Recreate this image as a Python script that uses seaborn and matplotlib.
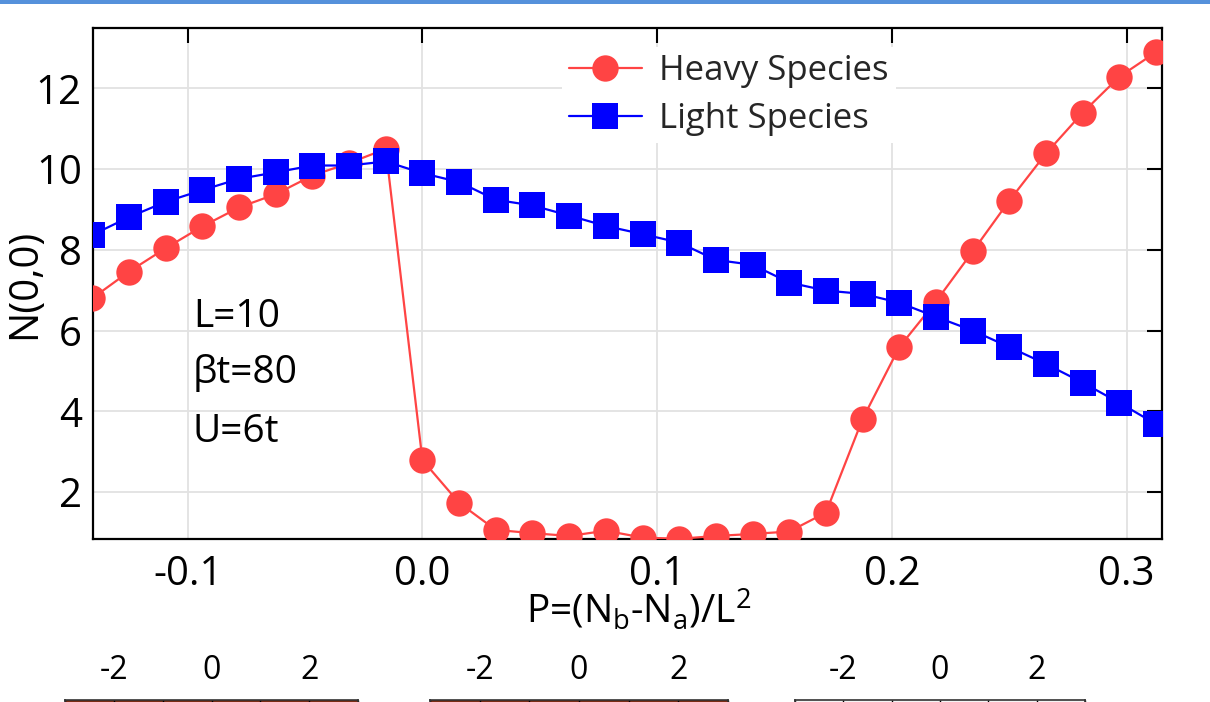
import matplotlib
matplotlib.use("Agg")
import matplotlib.pyplot as plt
import seaborn as sns
import pandas as pd
from matplotlib.patches import Rectangle

# ---------------- data ----------------
P_values = [-0.140625, -0.125, -0.109375, -0.09375, -0.078125, -0.0625, -0.046875,
            -0.03125, -0.015625, 0.0, 0.015625, 0.03125, 0.046875, 0.0625, 0.078125,
            0.09375, 0.109375, 0.125, 0.140625, 0.15625, 0.171875, 0.1875, 0.203125,
            0.21875, 0.234375, 0.25, 0.265625, 0.28125, 0.296875, 0.3125]
heavy_N = [6.80, 7.46, 8.04, 8.58, 9.05, 9.38, 9.84, 10.15, 10.50, 2.79,
           1.73, 1.06, 0.98, 0.91, 1.04, 0.87, 0.84, 0.91, 0.96, 1.02,
           1.49, 3.81, 5.59, 6.72, 7.96, 9.22, 10.39, 11.40, 12.29, 12.90]
light_N = [8.37, 8.81, 9.19, 9.48, 9.76, 9.92, 10.09, 10.09, 10.19, 9.90,
           9.68, 9.24, 9.10, 8.85, 8.59, 8.39, 8.18, 7.75, 7.63, 7.19,
           6.99, 6.91, 6.69, 6.34, 6.00, 5.59, 5.17, 4.71, 4.21, 3.68]
series_names = ["Heavy Species", "Light Species"]
x_ticks = [-0.1, 0.0, 0.1, 0.2, 0.3]
x_tick_labels = ["-0.1", "0.0", "0.1", "0.2", "0.3"]
y_ticks = [2, 4, 6, 8, 10, 12]
annotations = ["L=10", "βt=80", "U=6t"]
strip_ticks = [-2, 0, 2]
strip_tick_labels = ["-2", "0", "2"]

# ---------------- style ----------------
sns.set_theme(style="white")
plt.rcParams["font.family"] = ["Open Sans", "DejaVu Sans"]
plt.rcParams["mathtext.default"] = "regular"

RED = "#ff4444"
BLUE = "#0000ff"

fig = plt.figure(figsize=(12.1, 7.02), dpi=100)
fig.patch.set_facecolor("white")
ax = fig.add_axes([0.0769, 0.2322, 0.8834, 0.7275])

df_h = pd.DataFrame({"P": P_values, "N": heavy_N})
df_l = pd.DataFrame({"P": P_values, "N": light_N})

sns.lineplot(data=df_h, x="P", y="N", ax=ax, color=RED, marker="o", markersize=19,
             markeredgewidth=0, linewidth=1.6, label=series_names[0], zorder=3)
sns.lineplot(data=df_l, x="P", y="N", ax=ax, color=BLUE, marker="s", markersize=19,
             markeredgewidth=0, linewidth=1.6, label=series_names[1], zorder=4)

ax.set_xlim(-0.1403, 0.315)
ax.set_ylim(0.835, 13.49)
ax.set_xticks(x_ticks)
ax.set_xticklabels(x_tick_labels)
ax.set_yticks(y_ticks)
ax.grid(True, color="#e2e2e2", linewidth=1.3)
ax.set_axisbelow(True)

for s in ax.spines.values():
    s.set_visible(True)
    s.set_color("black")
    s.set_linewidth(1.6)

ax.tick_params(axis="both", which="major", direction="in", length=11, width=1.5,
               top=True, right=True, labelsize=29, colors="black")
ax.tick_params(axis="x", pad=11)
ax.tick_params(axis="y", pad=8)

ax.set_ylabel("N(0,0)", fontsize=29, color="black")
ax.yaxis.set_label_coords(-0.045, 0.5)
ax.set_xlabel(r"P=(N$_b$-N$_a$)/L$^2$", fontsize=28, color="black")
ax.xaxis.set_label_coords(0.51, -0.093)

ys = [0.4157, 0.306, 0.1905]
for t, yy in zip(annotations, ys):
    ax.text(0.0935, yy, t, transform=ax.transAxes, fontsize=28, va="baseline",
            ha="left", color="black")

leg = ax.legend(loc="upper left", bbox_to_anchor=(0.4387, 0.963), fontsize=25,
                frameon=True, facecolor="white", edgecolor="none", framealpha=1,
                handlelength=2.1, handletextpad=0.5, labelspacing=0.4,
                borderpad=0.2, borderaxespad=0.0, fancybox=False)
leg.set_zorder(5)

# top blue band
fig.patches.append(Rectangle((0, 1 - 4 / 702), 1, 4 / 702, transform=fig.transFigure,
                             facecolor="#5591db", edgecolor="none", zorder=10))

# partial axes strips at the bottom
strips = [(65, 358, "#7a2c14"), (430, 728, "#7a2c14"), (795, 1085, "#f4f4f4")]
for x0, x1, col in strips:
    top = (702 - 699.5) / 702
    h = 0.06
    sax = fig.add_axes([x0 / 1210, top - h, (x1 - x0) / 1210, h])
    sax.set_xlim(-3, 3)
    sax.set_ylim(0, 1)
    sax.set_facecolor(col)
    sax.set_yticks([])
    sax.set_xticks(strip_ticks)
    sax.set_xticklabels(strip_tick_labels)
    sax.set_xticks([-3, -1, 1, 3], minor=True)
    sax.xaxis.tick_top()
    sax.tick_params(axis="x", which="both", direction="in", length=4, width=1,
                    labelsize=23, pad=9, colors="black")
    for s in sax.spines.values():
        s.set_color("#333333")
        s.set_linewidth(1.2)

fig.savefig("out.png", dpi=100, facecolor="white")
